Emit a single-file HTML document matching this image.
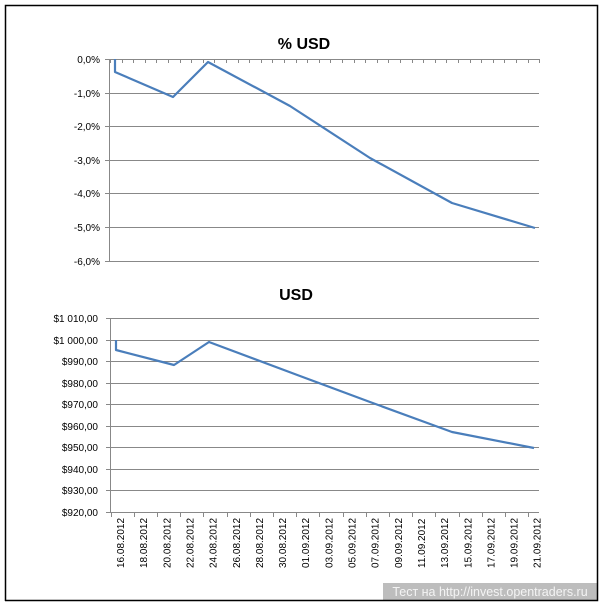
<!DOCTYPE html>
<html><head><meta charset="utf-8"><style>
html,body{margin:0;padding:0;background:#fff;}
svg{display:block;}
text{font-family:"Liberation Sans","DejaVu Sans",sans-serif;}
</style></head><body>
<svg width="603" height="605" viewBox="0 0 603 605" xmlns="http://www.w3.org/2000/svg">
<rect x="0" y="0" width="603" height="605" fill="#fff"/>
<!-- watermark -->
<rect x="383" y="583" width="215" height="17" fill="#bdbdbd"/>
<text x="490" y="596" font-size="12.5" fill="#f4f4f4" text-anchor="middle">Тест на http://invest.opentraders.ru</text>
<!-- border -->
<path d="M5.5 601 V5.5 H597.5 V600.5 H5" fill="none" stroke="#000" stroke-width="1.5"/>

<!-- TOP CHART -->
<text x="304" y="49" font-size="16" font-weight="bold" text-anchor="middle">% USD</text>
<g stroke="#888" stroke-width="1">
<line x1="109" y1="93.5" x2="539" y2="93.5"/>
<line x1="109" y1="126.5" x2="539" y2="126.5"/>
<line x1="109" y1="160.5" x2="539" y2="160.5"/>
<line x1="109" y1="193.5" x2="539" y2="193.5"/>
<line x1="109" y1="227.5" x2="539" y2="227.5"/>
<line x1="109" y1="261.5" x2="539" y2="261.5"/>
<line x1="109" y1="59.5" x2="539" y2="59.5"/>
<line x1="109.5" y1="59" x2="109.5" y2="261"/>
<line x1="105" y1="59.5" x2="109" y2="59.5"/>
<line x1="105" y1="93.5" x2="109" y2="93.5"/>
<line x1="105" y1="126.5" x2="109" y2="126.5"/>
<line x1="105" y1="160.5" x2="109" y2="160.5"/>
<line x1="105" y1="193.5" x2="109" y2="193.5"/>
<line x1="105" y1="227.5" x2="109" y2="227.5"/>
<line x1="105" y1="261.5" x2="109" y2="261.5"/>
</g>
<g id="tt" stroke="#888" stroke-width="1"></g>
<g font-size="10" text-anchor="end" fill="#000">
<text x="100" y="63">0,0%</text>
<text x="100" y="97">-1,0%</text>
<text x="100" y="130">-2,0%</text>
<text x="100" y="164">-3,0%</text>
<text x="100" y="197">-4,0%</text>
<text x="100" y="231">-5,0%</text>
<text x="100" y="265">-6,0%</text>
</g>
<polyline fill="none" stroke="#4a7ebb" stroke-width="2.2" stroke-linejoin="round"
 points="115,59 115,72 173,97 208,62 290,106 370,158 452,203 535,228"/>

<!-- BOTTOM CHART -->
<text x="296" y="300" font-size="16" font-weight="bold" text-anchor="middle">USD</text>
<g stroke="#888" stroke-width="1">
<line x1="110" y1="318.5" x2="539" y2="318.5"/>
<line x1="110" y1="340.5" x2="539" y2="340.5"/>
<line x1="110" y1="361.5" x2="539" y2="361.5"/>
<line x1="110" y1="383.5" x2="539" y2="383.5"/>
<line x1="110" y1="404.5" x2="539" y2="404.5"/>
<line x1="110" y1="426.5" x2="539" y2="426.5"/>
<line x1="110" y1="447.5" x2="539" y2="447.5"/>
<line x1="110" y1="469.5" x2="539" y2="469.5"/>
<line x1="110" y1="490.5" x2="539" y2="490.5"/>
<line x1="110" y1="512.5" x2="539" y2="512.5"/>
<line x1="110.5" y1="318" x2="110.5" y2="512"/>
<line x1="106" y1="318.5" x2="110" y2="318.5"/>
<line x1="106" y1="340.5" x2="110" y2="340.5"/>
<line x1="106" y1="361.5" x2="110" y2="361.5"/>
<line x1="106" y1="383.5" x2="110" y2="383.5"/>
<line x1="106" y1="404.5" x2="110" y2="404.5"/>
<line x1="106" y1="426.5" x2="110" y2="426.5"/>
<line x1="106" y1="447.5" x2="110" y2="447.5"/>
<line x1="106" y1="469.5" x2="110" y2="469.5"/>
<line x1="106" y1="490.5" x2="110" y2="490.5"/>
<line x1="106" y1="512.5" x2="110" y2="512.5"/>
</g>
<g id="bt" stroke="#888" stroke-width="1"></g>
<g font-size="10" text-anchor="end" fill="#000">
<text x="98" y="322">$1 010,00</text>
<text x="98" y="344">$1 000,00</text>
<text x="98" y="365">$990,00</text>
<text x="98" y="387">$980,00</text>
<text x="98" y="408">$970,00</text>
<text x="98" y="430">$960,00</text>
<text x="98" y="451">$950,00</text>
<text x="98" y="473">$940,00</text>
<text x="98" y="494">$930,00</text>
<text x="98" y="516">$920,00</text>
</g>
<polyline fill="none" stroke="#4a7ebb" stroke-width="2.2" stroke-linejoin="round"
 points="116,340 116,350 174,365 209,342 300,376 370,402 452,432 534,448"/>
<g id="xl" font-size="10" fill="#000"></g>
</svg>
<script>
var ns="http://www.w3.org/2000/svg";
var tt=document.getElementById("tt");
for(var k=0;k<=37;k++){var x=Math.round(110+11.6*k)+0.5;var l=document.createElementNS(ns,"line");l.setAttribute("x1",x);l.setAttribute("x2",x);l.setAttribute("y1",59);l.setAttribute("y2",63);tt.appendChild(l);}
var bt=document.getElementById("bt");
for(var k=0;k<=18;k++){var x=Math.round(110.5+23.2*k)+0.5;if(x>540)x=539.5;var l=document.createElementNS(ns,"line");l.setAttribute("x1",x);l.setAttribute("x2",x);l.setAttribute("y1",512);l.setAttribute("y2",517);bt.appendChild(l);}
var labs=["16.08.2012","18.08.2012","20.08.2012","22.08.2012","24.08.2012","26.08.2012","28.08.2012","30.08.2012","01.09.2012","03.09.2012","05.09.2012","07.09.2012","09.09.2012","11.09.2012","13.09.2012","15.09.2012","17.09.2012","19.09.2012","21.09.2012"];
var xl=document.getElementById("xl");
for(var i=0;i<labs.length;i++){var x=120.5+23.15*i;var t=document.createElementNS(ns,"text");t.setAttribute("transform","translate("+(x+3.5)+",568) rotate(-90)");t.textContent=labs[i];xl.appendChild(t);}
</script>
</body></html>
